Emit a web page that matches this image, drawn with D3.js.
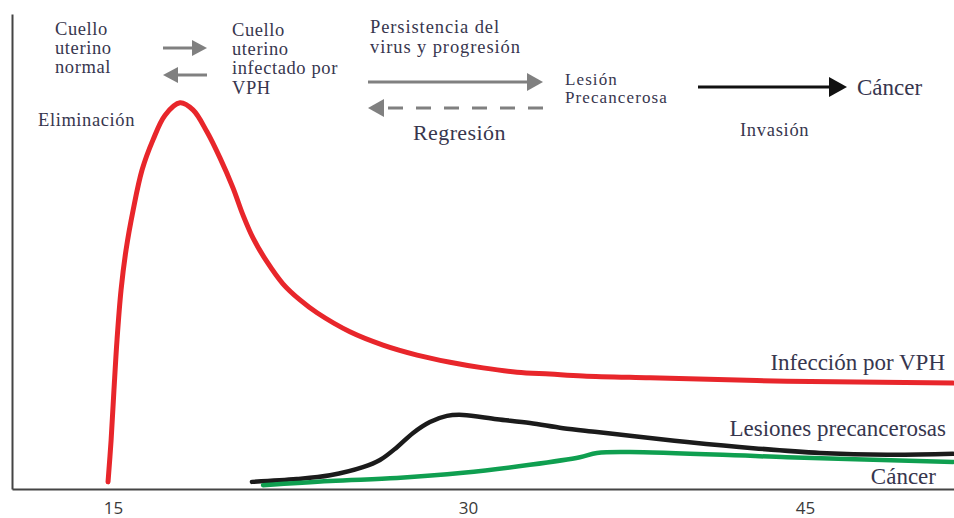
<!DOCTYPE html>
<html><head><meta charset="utf-8">
<script src="https://cdn.jsdelivr.net/npm/d3@7"></script>
<style>body{margin:0;background:#fff}svg{display:block}</style>
</head><body><svg id="c" width="954" height="518"></svg>
<script>
// ---- data ----
const ageTicks = [15, 30, 45];
const ageExtent = [10.73, 51.63];
const hpvInfection = [[14.79,1.5],[14.92,10.3],[15.04,20.8],[15.17,31.4],[15.34,41.9],[15.55,50.3],[15.85,58.7],[16.23,67.2],[16.69,73.5],[17.20,78.7],[17.83,81.3],[18.38,79.8],[18.97,75.2],[19.52,69.7],[20.07,63.4],[20.49,57.7],[20.92,52.8],[21.51,47.8],[22.18,43.2],[22.90,39.8],[23.62,37.1],[25.01,33.1],[26.41,30.3],[27.85,28.2],[29.24,26.7],[30.67,25.5],[32.18,24.6],[33.65,24.2],[35.12,23.8],[38.10,23.4],[44.20,22.7],[51.59,22.3]];
const precancerLesions = [[20.87,1.5],[22.77,2.1],[24.17,2.9],[25.56,4.6],[26.28,6.1],[27.00,8.8],[27.68,11.8],[28.39,14.1],[29.11,15.4],[29.79,15.6],[31.29,14.7],[32.76,13.9],[34.23,12.8],[35.74,12.0],[37.21,11.2],[39.75,9.9],[42.69,8.6],[45.67,7.6],[48.65,7.2],[51.59,7.4]];
const cancer = [[21.34,0.8],[24.17,1.7],[27.00,2.3],[29.79,3.4],[32.76,5.1],[34.98,6.7],[35.74,7.6],[37.21,7.8],[44.20,6.7],[51.59,5.7]];
const seriesLabels = ["Infección por VPH", "Lesiones precancerosas", "Cáncer"];
const stageNormal = ["Cuello", "uterino", "normal"];
const stageInfected = ["Cuello", "uterino", "infectado por", "VPH"];
const stageProgression = ["Persistencia del", "virus y progresión"];
const stageLesion = ["Lesión", "Precancerosa"];
const stageCancer = "Cáncer";
const labelRegression = "Regresión";
const labelInvasion = "Invasión";
const labelElimination = "Eliminación";

// ---- chart ----
const svg = d3.select("#c");
const x = d3.scaleLinear()
  .domain([ageExtent[0], ageTicks[0], ageTicks[1], ageTicks[2], ageExtent[1]])
  .range([12, 113, 468, 805, 954]);
const y = d3.scaleLinear().domain([0, 100]).range([489, 14]);

const serif = "'Liberation Serif','Times New Roman',serif";
const txtColor = "#37364e";
const gray = "#808080";

// axes
const xAxis = svg.append("g").attr("transform", `translate(0,${y(0)})`)
  .call(d3.axisBottom(x).tickValues(ageTicks).tickSize(0).tickSizeOuter(0).tickPadding(13).tickFormat(d3.format("d")));
xAxis.select(".domain").attr("stroke", "#444").attr("stroke-width", 2);
xAxis.selectAll("text").attr("font-family", "'Open Sans',sans-serif").attr("font-size", 17).attr("fill", "#3a3a3a");

const yAxis = svg.append("g").attr("transform", `translate(${x(ageExtent[0])},0)`)
  .call(d3.axisLeft(y).tickValues([]).tickSizeOuter(0));
yAxis.select(".domain").attr("stroke", "#444").attr("stroke-width", 2);

// lines
const line = d3.line().x(d => x(d[0])).y(d => y(d[1])).curve(d3.curveCatmullRom.alpha(0.5));
const series = [
  {data: hpvInfection, color: "#e8262b", w: 5},
  {data: precancerLesions, color: "#1b1b1b", w: 4.5},
  {data: cancer, color: "#0f9f50", w: 4.5}
];
svg.selectAll("path.series").data(series).join("path")
  .attr("class", "series")
  .attr("d", d => line(d.data))
  .attr("fill", "none")
  .attr("stroke", d => d.color)
  .attr("stroke-width", d => d.w)
  .attr("stroke-linecap", "round")
  .attr("stroke-linejoin", "round");

// series labels
const seriesLabelPos = [[945, 362], [946, 428], [936, 476]];
svg.selectAll("text.slabel").data(seriesLabels).join("text")
  .attr("class", "slabel")
  .attr("x", (d, i) => seriesLabelPos[i][0])
  .attr("y", (d, i) => seriesLabelPos[i][1])
  .attr("text-anchor", "end")
  .attr("dominant-baseline", "central")
  .attr("font-family", serif)
  .attr("font-size", 23)
  .attr("fill", txtColor)
  .text(d => d);

// annotation helpers
function block(lines, x0, y0, dy, size, ls) {
  const t = svg.append("text").attr("font-family", serif).attr("font-size", size)
    .attr("letter-spacing", ls || 0)
    .attr("fill", txtColor).attr("dominant-baseline", "central");
  lines.forEach((s, i) => t.append("tspan").attr("x", x0).attr("y", y0 + i * dy).text(s));
}
function arrow(x1, x2, yy, color, w, hl, hh, dash) {
  const dir = x2 > x1 ? 1 : -1;
  const base = x2 - dir * hl;
  svg.append("line").attr("x1", x1).attr("x2", base + dir * 1).attr("y1", yy).attr("y2", yy)
    .attr("stroke", color).attr("stroke-width", w)
    .attr("stroke-dasharray", dash || null);
  svg.append("path")
    .attr("d", `M${x2},${yy}L${base},${yy - hh}L${base},${yy + hh}Z`)
    .attr("fill", color);
}

block(stageNormal, 55, 29, 19, 18.5, 0.6);
block(stageInfected, 232, 30, 19.2, 18.5, 0.6);
block(stageProgression, 370, 27, 20, 18.5, 0.9);
block(stageLesion, 565, 79, 18, 17, 1.1);
block([stageCancer], 857, 87, 20, 23, 0);
block([labelRegression], 413, 132, 20, 22, 0.4);
block([labelInvasion], 740, 130, 20, 18.5, 0.7);
block([labelElimination], 38, 120, 20, 18.5, 0.6);

arrow(163, 207, 48, gray, 3, 15, 8);
arrow(207, 163, 75, gray, 3, 15, 8);
arrow(368, 543, 82, gray, 3, 16, 9);
arrow(543, 368, 108, gray, 3, 16, 9, "15,13");
arrow(698, 847, 87, "#111", 3, 18, 10);
</script>
</body></html>
